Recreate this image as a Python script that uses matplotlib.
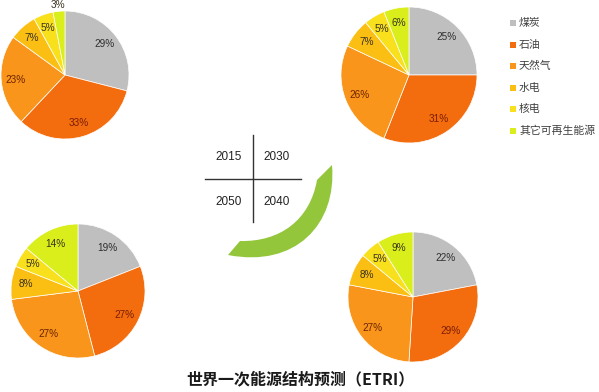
import numpy as np
import matplotlib.pyplot as plt
from matplotlib.path import Path
from matplotlib.patches import PathPatch

plt.rcParams['font.family'] = ['Noto Sans CJK SC', 'DejaVu Sans']

categories = ['煤炭', '石油', '天然气', '水电', '核电', '其它可再生能源']
colors = ['#bfbfbf', '#f36d0f', '#f8951a', '#fbbf14', '#f8e01c', '#d9ee1a']
label_colors = ['#2e2e2e', '#7a1c00', '#6e2400', '#3a3320', '#3a3320', '#3a3320']

years = ['2015', '2030', '2040', '2050']
share_2015 = [29, 33, 23, 7, 5, 3]
share_2030 = [25, 31, 26, 7, 5, 6]
share_2040 = [22, 29, 27, 8, 5, 9]
share_2050 = [19, 27, 27, 8, 5, 14]

title = '世界一次能源结构预测（ETRI）'

W, H = 599, 392
fig = plt.figure(figsize=(W / 100, H / 100), dpi=100)
ax = fig.add_axes([0, 0, 1, 1])


def Y(y):
    # image rows (top down) -> data y
    return H - y


def draw_pie(values, cx, cy, r):
    ax.pie(values, colors=colors, startangle=90, counterclock=False,
           center=(cx, Y(cy)), radius=r, frame=True,
           wedgeprops=dict(edgecolor='white', linewidth=0.5))
    start = 90.0
    for v, lc in zip(values, label_colors):
        mid = start - v * 3.6 / 2
        start -= v * 3.6
        d = 1.1 if v < 4 else 0.78
        ax.text(cx + d * r * np.cos(np.radians(mid)),
                Y(cy) + d * r * np.sin(np.radians(mid)),
                f'{v}%', ha='center', va='center', fontsize=7.2,
                color=lc, family='Liberation Sans')


draw_pie(share_2015, 65, 75, 64)
draw_pie(share_2030, 409, 75, 68)
draw_pie(share_2040, 413, 297, 65)
draw_pie(share_2050, 78, 291, 67)

# cross with years
ax.plot([253, 253], [Y(135), Y(222)], color='#333333', lw=1)
ax.plot([205, 301], [Y(179), Y(179)], color='#333333', lw=1)
for txt, x, y in [(years[0], 229, 157), (years[1], 277, 157),
                  (years[3], 229, 202), (years[2], 277, 202)]:
    ax.text(x, Y(y), txt, ha='center', va='center', fontsize=8.5,
            color='#222222', family='Liberation Sans')

# green crescent arrow
verts = [(228, 255), (295, 268), (337, 225), (332, 165),
         (317, 180),
         (310, 220), (280, 242), (240, 241),
         (228, 255)]
codes = [Path.MOVETO, Path.CURVE4, Path.CURVE4, Path.CURVE4,
         Path.LINETO,
         Path.CURVE4, Path.CURVE4, Path.CURVE4,
         Path.CLOSEPOLY]
verts = [(x, Y(y)) for x, y in verts]
ax.add_patch(PathPatch(Path(verts, codes), facecolor='#93c63b', edgecolor='none'))

# legend
for i, (cat, c) in enumerate(zip(categories, colors)):
    yy = 23 + i * 21.6
    ax.plot(513, Y(yy), marker='s', markersize=4, color=c, markeredgewidth=0)
    ax.text(519, Y(yy), cat, ha='left', va='center', fontsize=7.8, color='#404040')

ax.text(300, Y(379), title, ha='center', va='center', fontsize=11.5,
        fontweight='bold', color='#1a1a1a')

ax.set_xlim(0, W)
ax.set_ylim(0, H)
ax.set_aspect('equal')
ax.axis('off')
fig.savefig('out.png', dpi=100, facecolor='white')
